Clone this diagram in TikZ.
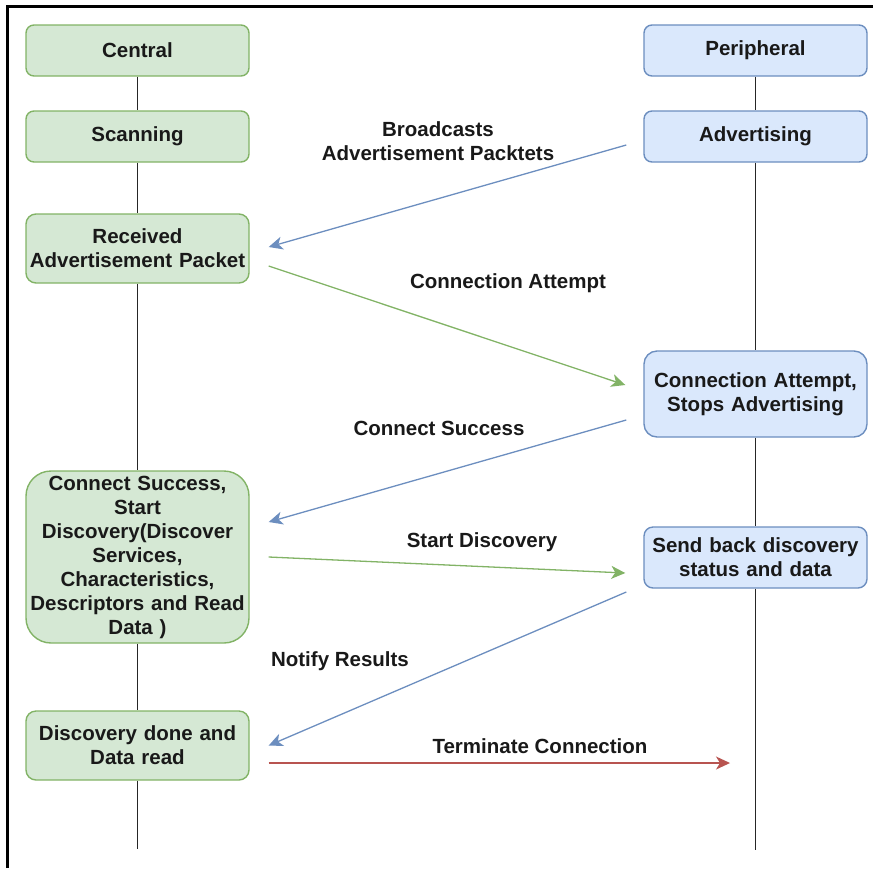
\documentclass[tikz,border=0pt]{standalone}
\usepackage{fontspec}
\setmainfont{Liberation Sans}
\usetikzlibrary{arrows.meta,positioning}
\definecolor{gfill}{HTML}{D5E8D4}
\definecolor{gline}{HTML}{82B366}
\definecolor{bfill}{HTML}{DAE8FC}
\definecolor{bline}{HTML}{6C8EBF}
\definecolor{rline}{HTML}{B85450}

\begin{document}
\begin{tikzpicture}[x=1pt,y=-1pt,
  every node/.style={font=\fontsize{20.5}{24}\selectfont\bfseries,text=black!90},
  cen/.style={draw=gline,fill=gfill,line width=1.4pt,rounded corners=8pt,align=center,inner sep=0pt,text width=223pt,minimum height=51pt},
  per/.style={cen,draw=bline,fill=bfill},
  life/.style={line width=1.6pt,black!85},
  lbl/.style={align=center,inner sep=0pt},
  ar/.style={-{Stealth[length=14pt,width=13pt,inset=4pt]},line width=1.3pt}]
\useasboundingbox (0,0) rectangle (880,868);
% frame
\draw[line width=3pt] (7,868) -- (7,6) -- (873,6);
% central side
\node[cen] (c0) at (137.5,50.5) {Central};
\node[cen] (c1) at (137.5,136.5) {Scanning};
\node[cen,minimum height=69pt,rounded corners=10pt] (c2) at (137.5,248.5) {Received\\Advertisement Packet};
\node[cen,minimum height=172pt,rounded corners=25pt] (c3) at (137.5,557) {Connect Success,\\Start\\Discovery(Discover\\Services,\\Characteristics,\\Descriptors and Read\\Data )};
\node[cen,minimum height=69pt,rounded corners=10pt] (c4) at (137.5,745.5) {Discovery done and\\Data read};
\coordinate (cend) at (137.5,849);
% peripheral side
\node[per] (p0) at (755.5,50.5) {Peripheral};
\node[per] (p1) at (755.5,136.5) {Advertising};
\node[per,minimum height=86pt,rounded corners=13pt] (p2) at (755.5,394) {Connection Attempt,\\Stops Advertising};
\node[per,minimum height=61pt,rounded corners=9pt] (p3) at (755.5,557.5) {Send back discovery\\status and data};
\coordinate (pend) at (755.5,850);
\coordinate (tend) at (730,763);
% lifelines
\draw[life] (c0) -- (c1); \draw[life] (c1) -- (c2); \draw[life] (c2) -- (c3);
\draw[life] (c3) -- (c4); \draw[life] (c4.south) -- (cend);
\draw[life] (p0) -- (p1); \draw[life] (p1) -- (p2); \draw[life] (p2) -- (p3);
\draw[life] (p3.south) -- (pend);
% messages
\draw[ar,bline] ([xshift=-17pt,yshift=-8.5pt]p1.west) -- ([xshift=19pt,yshift=1.5pt]c2.east);
\draw[ar,gline] ([xshift=19pt,yshift=-17.5pt]c2.east) -- ([xshift=-18pt,yshift=9pt]p2.west);
\draw[ar,bline] ([xshift=-17pt,yshift=-26pt]p2.west) -- ([xshift=19pt,yshift=35pt]c3.east);
\draw[ar,gline] ([xshift=19pt]c3.east) -- ([xshift=-18pt,yshift=-15.5pt]p3.west);
\draw[ar,bline] ([xshift=-17pt,yshift=-34.5pt]p3.west) -- ([xshift=19pt]c4.east);
\draw[ar,rline] ([xshift=19pt,yshift=-17.5pt]c4.east) -- (tend);
% message labels
\node[lbl] (l1) at (438,141) {Broadcasts\\Advertisement Packtets};
\node[lbl] (l2) at (508,283) {Connection Attempt};
\node[lbl] (l3) at (439,428) {Connect Success};
\node[lbl] (l4) at (482,542) {Start Discovery};
\node[lbl] (l5) at (340,661) {Notify Results};
\node[lbl] (l6) at (540,746) {Terminate Connection};
\end{tikzpicture}
\end{document}
